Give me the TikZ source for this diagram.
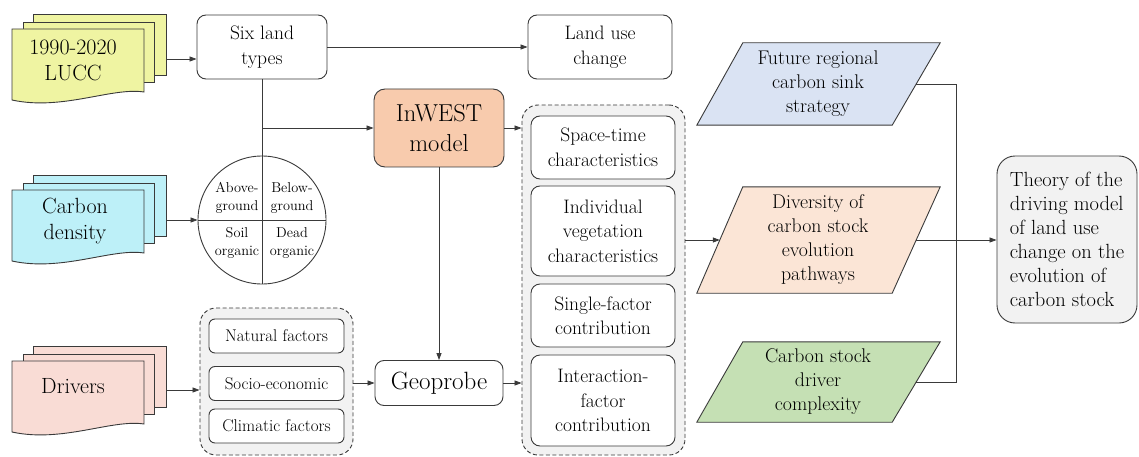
\documentclass[tikz,border=0pt]{standalone}
\usepackage{fontspec}
\usetikzlibrary{arrows.meta,backgrounds}
\definecolor{luccc}{HTML}{EFF4A2}
\definecolor{cdc}{HTML}{BDF0F8}
\definecolor{drvc}{HTML}{F9DCD5}
\definecolor{inwc}{HTML}{F8CBAD}
\definecolor{futc}{HTML}{DAE3F3}
\definecolor{divc}{HTML}{FBE5D6}
\definecolor{csc}{HTML}{C5E0B4}
\definecolor{grpc}{HTML}{F2F2F2}
\definecolor{linec}{HTML}{3A3A3A}
\newcommand{\docstack}[3]{%
  \draw[sheet, fill=#3] ({#1+21},{#2-15}) rectangle ({#1+154},{#2+46});
  \draw[sheet, fill=#3] ({#1+11},{#2-7}) rectangle ({#1+142},{#2+53});
  \draw[sheet, fill=#3] (#1,#2) -- ({#1+132},#2) -- ({#1+132},{#2+63})
     .. controls ({#1+100},{#2+58}) and ({#1+50},{#2+82}) .. (#1,{#2+71}) -- cycle;}
\tikzset{
  sheet/.style={draw=linec, line width=0.9pt},
  basefont/.style={font=\fontsize{19.5}{24.5}\selectfont},
  wbox/.style={draw=linec, line width=0.9pt, fill=white, rounded corners=9pt,
    align=center, inner sep=0pt, basefont},
  fbox/.style={draw=linec, line width=0.9pt, fill=white, rounded corners=6pt,
    align=center, inner sep=0pt, font=\fontsize{17}{21}\selectfont,
    minimum width=135pt, minimum height=34pt},
  grp/.style={draw=linec, line width=0.9pt, dash pattern=on 4pt off 2.5pt,
    fill=grpc, rounded corners=16pt, inner sep=0pt},
  para/.style={inner sep=0pt, align=center, minimum width=196pt,
    font=\fontsize{19.8}{24}\selectfont},
  docfont/.style={align=center, inner sep=0pt, font=\fontsize{22}{26}\selectfont},
  qfont/.style={align=center, inner sep=0pt, font=\fontsize{14.3}{18}\selectfont},
  conn/.style={draw=linec, line width=0.8pt},
  arr/.style={conn, -{Triangle[length=7pt,width=5pt]}},
}
\begin{document}
\begin{tikzpicture}[x=1pt,y=-1pt]
\useasboundingbox (0,0) rectangle (1139,457);

% document stacks
\docstack{12}{29}{luccc}
\docstack{12}{190}{cdc}
\docstack{12}{361}{drvc}
\node[docfont] (lucc) at (73,60) {1990-2020\\LUCC};
\node[docfont] (cd) at (75,221) {Carbon\\density};
\node[docfont] (drv) at (73,386) {Drivers};
\coordinate (luccR) at (166,59);
\coordinate (cdR) at (166,220);
\coordinate (drvR) at (166,390);

% top row
\node[wbox, minimum width=130pt, minimum height=64pt] (six) at (262,47) {Six land\\types};
\node[wbox, minimum width=144pt, minimum height=64pt] (luc) at (600,47) {Land use\\change};

% carbon pools circle
\node[circle, draw=linec, line width=0.9pt, minimum size=128pt, inner sep=0pt] (pool) at (262,220) {};
\draw[conn] (six.south) -- (pool.south);
\draw[conn] (pool.west) -- (pool.east);
\node[qfont] (ag) at (237,198) {Above-\\ground};
\node[qfont] (bg) at (292,198) {Below-\\ground};
\node[qfont] (so) at (237,243) {Soil\\organic};
\node[qfont] (dd) at (292,243) {Dead\\organic};

% InWEST and Geoprobe
\node[wbox, fill=inwc, rounded corners=11pt, minimum width=130pt, minimum height=78pt,
  font=\fontsize{24.5}{30}\selectfont] (inw) at (439,128) {InWEST\\model};
\node[wbox, minimum width=128pt, minimum height=45pt,
  font=\fontsize{25}{30}\selectfont] (geo) at (439,383) {Geoprobe};

% left factor group
\node[grp, minimum width=153pt, minimum height=147pt] (lgrp) at (276.5,381.5) {};
\node[fbox] (nat) at (276.5,336) {Natural factors};
\node[fbox] (soc) at (276.5,383.5) {Socio-economic};
\node[fbox] (cli) at (276.5,426) {Climatic factors};

% right characteristic group
\node[grp, minimum width=163pt, minimum height=350pt] (rgrp) at (603.5,280) {};
\node[wbox, minimum width=144pt, minimum height=63pt] (spt) at (603,147.5) {Space-time\\characteristics};
\node[wbox, minimum width=144pt, minimum height=90pt] (ind) at (603,231) {Individual\\vegetation\\characteristics};
\node[wbox, minimum width=144pt, minimum height=63pt] (sgl) at (603,315.5) {Single-factor\\contribution};
\node[wbox, minimum width=144pt, minimum height=91pt] (int) at (603,400.5) {Interaction-\\factor\\contribution};

% parallelograms
\node[para, minimum height=82pt] (fut) at (818,84) {Future regional\\carbon sink\\strategy};
\node[para, minimum height=106pt] (div) at (818,240) {Diversity of\\carbon stock\\evolution\\pathways};
\node[para, minimum height=80pt] (cs) at (818,382) {Carbon stock\\driver\\complexity};
\begin{pgfonlayer}{background}
  \foreach \n/\c in {fut/futc, div/divc, cs/csc}{
    \draw[sheet, fill=\c] ([xshift=23pt]\n.north west) -- ([xshift=24pt]\n.north east)
      -- ([xshift=-24pt]\n.south east) -- ([xshift=-23pt]\n.south west) -- cycle;
  }
\end{pgfonlayer}

% theory
\node[wbox, fill=grpc, rounded corners=18pt, minimum width=140pt, minimum height=167pt,
  align=left, font=\fontsize{20.5}{24}\selectfont] (thy) at (1067,239.5) {Theory of the\\driving model\\of land use\\change on the\\evolution of\\carbon stock};

% connectors
\draw[arr] (luccR) -- (luccR -| six.west);
\draw[arr] (six.east) -- (six.east -| luc.west);
\draw[arr] (cdR) -- (pool.west);
\draw[arr] (six.south |- inw.west) -- (inw.west);
\draw[arr] (inw.east) -- (inw.east -| rgrp.west);
\draw[arr] (inw.south) -- (geo.north);
\draw[arr] (drvR) -- (drvR -| lgrp.west);
\draw[arr] (lgrp.east |- geo.west) -- (geo.west);
\draw[arr] (geo.east) -- (geo.east -| rgrp.west);
\draw[arr] (rgrp.east |- div.west) -- (div.west);
\draw[conn] (fut.east) -- ++(40,0) |- (cs.east);
\draw[arr] (div.east) -- (div.east -| thy.west);
\end{tikzpicture}
\end{document}
